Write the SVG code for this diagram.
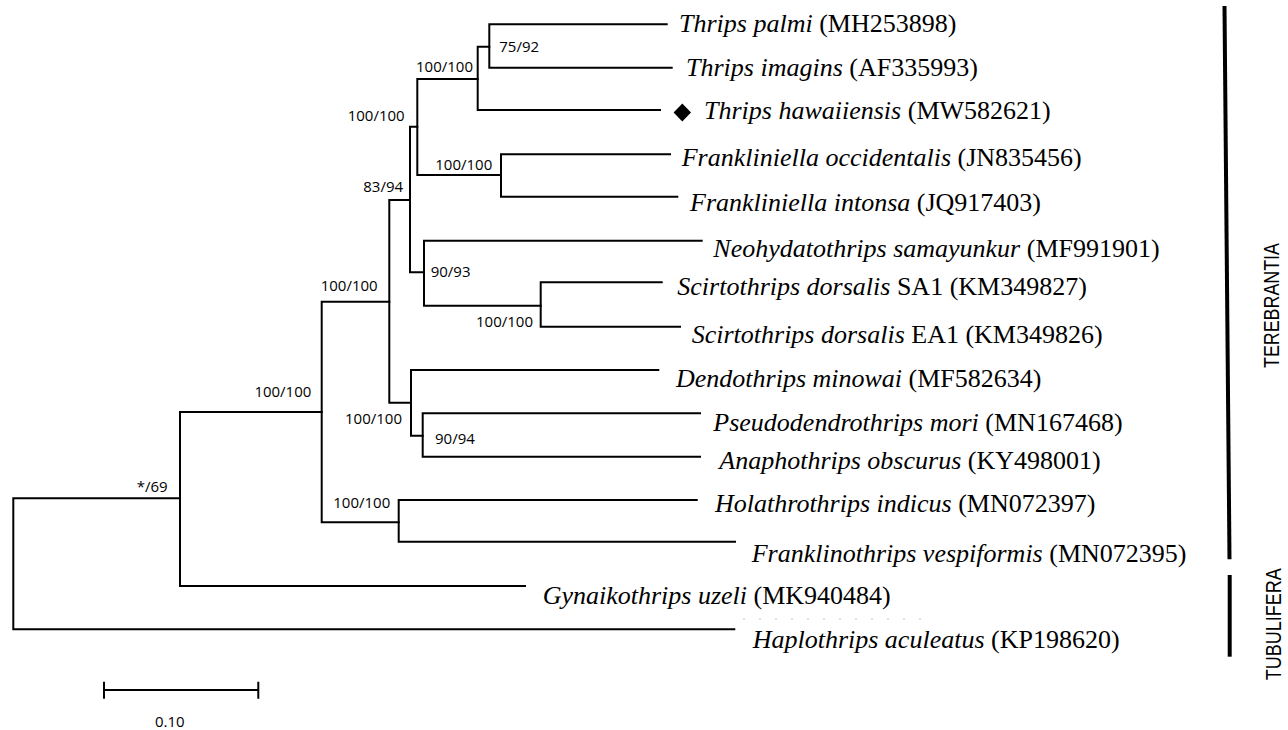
<svg xmlns="http://www.w3.org/2000/svg" width="1288" height="730" viewBox="0 0 1288 730">
<style>
.br{fill:none;stroke:#000;stroke-width:2;stroke-linecap:square}
.lab{font-family:"Liberation Serif","Times New Roman",serif;font-size:26px;fill:#000}
.i{font-style:italic}
.sup{font-family:"Open Sans","Liberation Sans",sans-serif;font-size:15px;fill:#000}
.grp{font-family:"Liberation Sans",Arial,sans-serif;font-size:22px;fill:#000}
.bar{stroke:#000;stroke-width:4;fill:none}
</style>
<rect width="1288" height="730" fill="#fff"/>
<g id="connectors">
<path class="br" d="M13.3,498.3V629.3M13.3,498.3H180M13.3,629.3H734.3"/>
<path class="br" d="M180,412V586M180,586H525M180,412H321.7"/>
<path class="br" d="M321.7,301.7V522.3M321.7,301.7H389.3M321.7,522.3H398.7"/>
<path class="br" d="M398.7,500V541.7M398.7,500H696.7M398.7,541.7H735"/>
<path class="br" d="M389.3,200V402.7M389.3,200H410M389.3,402.7H411"/>
<path class="br" d="M411,370V435.7M411,370H658.3M411,435.7H422.7"/>
<path class="br" d="M422.7,413.3V456.7M422.7,413.3H700M422.7,456.7H700"/>
<path class="br" d="M410,126.7V272.3M410,126.7H417.3M410,272.3H424"/>
<path class="br" d="M424,240.7V305.7M424,240.7H701.7M424,305.7H540.7"/>
<path class="br" d="M540.7,282.3V326.7M540.7,282.3H661.7M540.7,326.7H680"/>
<path class="br" d="M417.3,79V175M417.3,79H477.7M417.3,175H501"/>
<path class="br" d="M501,154.3V196.7M501,154.3H670M501,196.7H677.3"/>
<path class="br" d="M477.7,46.7V110M477.7,46.7H489.3M477.7,110H660"/>
<path class="br" d="M489.3,24.3V67.7M489.3,24.3H666.7M489.3,67.7H671.7"/>
<path d="M743,619H925" stroke="#d8d8d8" stroke-width="1.5" stroke-dasharray="2 14" fill="none"/>
</g>
<g id="support-values">
<text class="sup" x="499.3" y="51.7">75/92</text>
<text class="sup" x="416" y="71.7">100/100</text>
<text class="sup" x="347.7" y="120.7">100/100</text>
<text class="sup" x="435.3" y="170">100/100</text>
<text class="sup" x="363.3" y="191.7">83/94</text>
<text class="sup" x="430.7" y="277.3">90/93</text>
<text class="sup" x="320.7" y="290.7">100/100</text>
<text class="sup" x="476" y="326.7">100/100</text>
<text class="sup" x="254.4" y="396.7">100/100</text>
<text class="sup" x="345" y="424">100/100</text>
<text class="sup" x="435" y="444.3">90/94</text>
<text class="sup" x="333.3" y="507.7">100/100</text>
<text class="sup" x="136.7" y="491.7">*/69</text>
</g>
<g id="taxa">
<g id="t-palmi"><text class="lab" x="679" y="31.7"><tspan class="i">Thrips palmi</tspan> (MH253898)</text></g>
<g id="t-imagins"><text class="lab" x="686" y="76"><tspan class="i">Thrips imagins</tspan> (AF335993)</text></g>
<g id="t-hawaiiensis"><polygon points="682.3,103.5 691,112.5 682.3,121.5 673.6,112.5" fill="#000"/><text class="lab" x="704" y="119.3"><tspan class="i">Thrips hawaiiensis</tspan> (MW582621)</text></g>
<g id="f-occidentalis"><text class="lab" x="681.7" y="165.7"><tspan class="i">Frankliniella occidentalis</tspan> (JN835456)</text></g>
<g id="f-intonsa"><text class="lab" x="690" y="210.7"><tspan class="i">Frankliniella intonsa</tspan> (JQ917403)</text></g>
<g id="n-samayunkur"><text class="lab" x="713.3" y="256.7"><tspan class="i">Neohydatothrips samayunkur</tspan> (MF991901)</text></g>
<g id="s-dorsalis-sa1"><text class="lab" x="677.3" y="295"><tspan class="i">Scirtothrips dorsalis</tspan> SA1 (KM349827)</text></g>
<g id="s-dorsalis-ea1"><text class="lab" x="691.7" y="343.3"><tspan class="i">Scirtothrips dorsalis</tspan> EA1 (KM349826)</text></g>
<g id="d-minowai"><text class="lab" x="676" y="386.7"><tspan class="i">Dendothrips minowai</tspan> (MF582634)</text></g>
<g id="p-mori"><text class="lab" x="713.3" y="430.7"><tspan class="i">Pseudodendrothrips mori</tspan> (MN167468)</text></g>
<g id="a-obscurus"><text class="lab" x="719.3" y="469.3"><tspan class="i">Anaphothrips obscurus</tspan> (KY498001)</text></g>
<g id="h-indicus"><text class="lab" x="715" y="511.7"><tspan class="i">Holathrothrips indicus</tspan> (MN072397)</text></g>
<g id="f-vespiformis"><text class="lab" x="751.7" y="561.7"><tspan class="i">Franklinothrips vespiformis</tspan> (MN072395)</text></g>
<g id="g-uzeli"><text class="lab" x="542.7" y="604"><tspan class="i">Gynaikothrips uzeli</tspan> (MK940484)</text></g>
<g id="h-aculeatus"><text class="lab" x="752.7" y="648.3"><tspan class="i">Haplothrips aculeatus</tspan> (KP198620)</text></g>
</g>
<g id="groups">
<g id="terebrantia"><line class="bar" x1="1224.5" y1="6" x2="1229.5" y2="559.3"/><text class="grp" transform="translate(1278.7,305.5) rotate(-90)" text-anchor="middle" textLength="125" lengthAdjust="spacingAndGlyphs">TEREBRANTIA</text></g>
<g id="tubulifera"><line class="bar" x1="1229.7" y1="575" x2="1229.7" y2="656.7"/><text class="grp" transform="translate(1280.7,624.2) rotate(-90)" text-anchor="middle" textLength="112" lengthAdjust="spacingAndGlyphs">TUBULIFERA</text></g>
</g>
<g id="scale-bar">
<path class="br" d="M104,690H258.3M104,682.7V697.7M258.3,682.7V697.7" stroke-linecap="butt"/>
<text class="sup" x="155" y="726.7">0.10</text>
</g>
</svg>
